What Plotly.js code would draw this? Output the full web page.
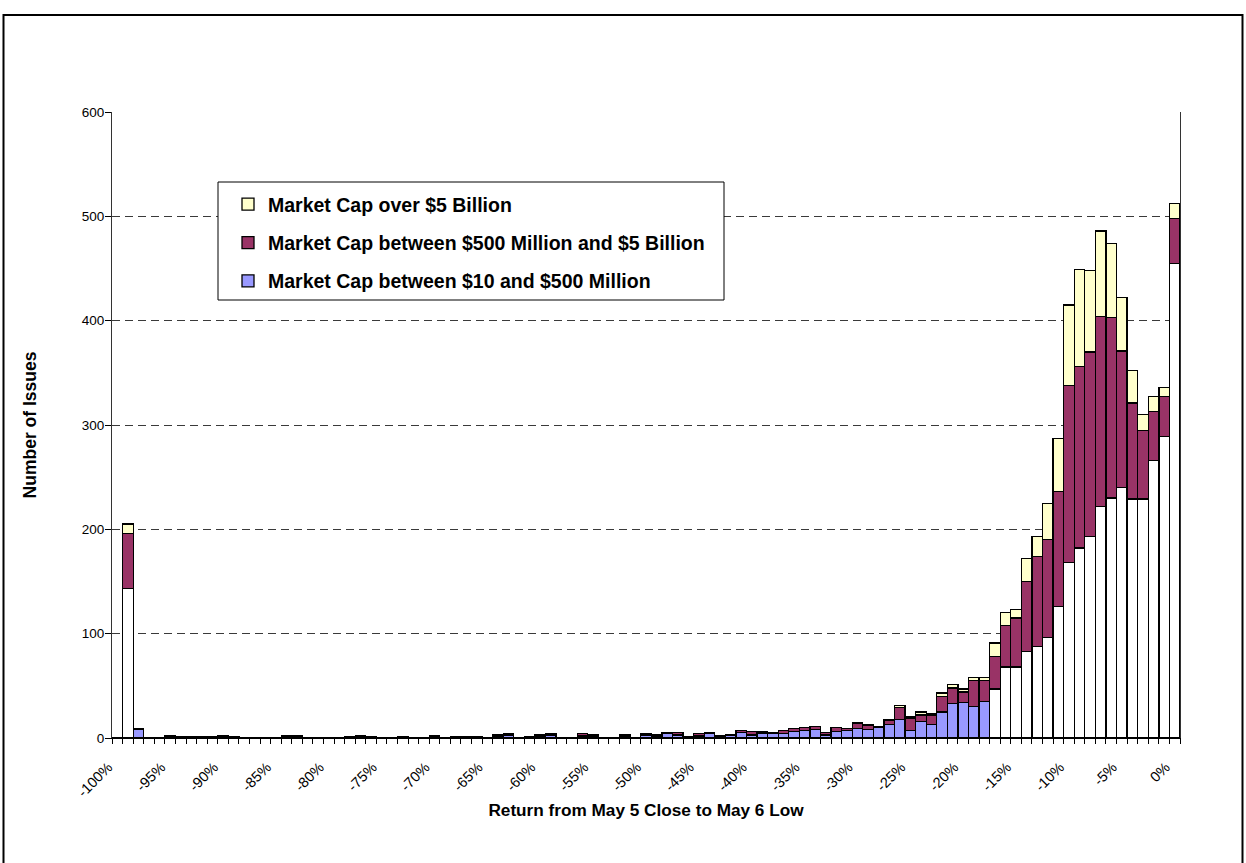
<!DOCTYPE html>
<html>
<head>
<meta charset="utf-8">
<script src="https://cdn.plot.ly/plotly-3.0.1.min.js"></script>
<style>
  html, body { margin: 0; padding: 0; background: #ffffff; }
  #chart { width: 1246px; height: 863px; }
</style>
</head>
<body>
<div id="chart"></div>
<script>
// One-percent return bins, from -100% up to 0%
const returnBins = [
  -100, -99, -98, -97, -96, -95, -94, -93, -92, -91,
  -90, -89, -88, -87, -86, -85, -84, -83, -82, -81,
  -80, -79, -78, -77, -76, -75, -74, -73, -72, -71,
  -70, -69, -68, -67, -66, -65, -64, -63, -62, -61,
  -60, -59, -58, -57, -56, -55, -54, -53, -52, -51,
  -50, -49, -48, -47, -46, -45, -44, -43, -42, -41,
  -40, -39, -38, -37, -36, -35, -34, -33, -32, -31,
  -30, -29, -28, -27, -26, -25, -24, -23, -22, -21,
  -20, -19, -18, -17, -16, -15, -14, -13, -12, -11,
  -10, -9, -8, -7, -6, -5, -4, -3, -2, -1,
  0
];

// Number of issues per bin, market cap between $10 and $500 million
const smallCap = [
  0, 143, 8, 0, 0, 1, 1, 1, 1, 1,
  1, 1, 0, 0, 0, 0, 1, 1, 0, 0,
  0, 0, 1, 1, 1, 0, 0, 1, 0, 0,
  1, 0, 1, 1, 1, 0, 1, 3, 0, 0,
  1, 3, 0, 0, 2, 1, 0, 0, 2, 0,
  3, 2, 4, 3, 1, 2, 4, 1, 3, 5,
  3, 4, 4, 4, 6, 7, 8, 3, 6, 7,
  9, 8, 10, 13, 18, 7, 16, 13, 25, 33,
  34, 30, 35, 47, 68, 68, 83, 88, 96, 126,
  168, 182, 193, 222, 230, 240, 229, 229, 266, 289,
  455
];

// Market cap between $500 million and $5 billion
const midCap = [
  0, 53, 1, 0, 0, 1, 0, 0, 0, 0,
  1, 0, 0, 0, 0, 0, 1, 1, 0, 0,
  0, 0, 0, 1, 0, 0, 0, 0, 0, 0,
  1, 0, 0, 0, 0, 0, 2, 1, 0, 1,
  2, 1, 0, 0, 2, 2, 0, 0, 1, 0,
  1, 1, 1, 2, 0, 2, 1, 1, 0, 2,
  3, 1, 1, 3, 3, 3, 3, 2, 4, 2,
  5, 4, 1, 4, 11, 12, 6, 9, 15, 15,
  10, 25, 20, 31, 40, 47, 67, 86, 94, 110,
  170, 174, 177, 182, 173, 131, 92, 66, 47, 38,
  43
];

// Market cap over $5 billion
const largeCap = [
  0, 9, 0, 0, 0, 0, 0, 0, 0, 0,
  0, 0, 0, 0, 0, 0, 0, 0, 0, 0,
  0, 0, 0, 0, 0, 0, 0, 0, 0, 0,
  0, 0, 0, 0, 0, 0, 0, 0, 0, 0,
  0, 0, 0, 0, 0, 0, 0, 0, 0, 0,
  0, 0, 0, 0, 0, 0, 0, 0, 0, 0,
  0, 1, 0, 0, 0, 0, 0, 0, 0, 0,
  1, 1, 0, 1, 2, 1, 3, 1, 3, 3,
  3, 3, 3, 13, 12, 8, 22, 19, 35, 51,
  77, 93, 78, 82, 71, 51, 31, 15, 14, 9,
  14
];

// Axis tick labels, one every five bins
const tickValues = [-100, -95, -90, -85, -80, -75, -70, -65, -60, -55, -50,
                    -45, -40, -35, -30, -25, -20, -15, -10, -5, 0];
const tickLabels = ['-100%', '-95%', '-90%', '-85%', '-80%', '-75%', '-70%',
                    '-65%', '-60%', '-55%', '-50%', '-45%', '-40%', '-35%',
                    '-30%', '-25%', '-20%', '-15%', '-10%', '-5%', '0%'];

const seriesNames = [
  'Market Cap between $10 and $500 Million',
  'Market Cap between $500 Million and $5 Billion',
  'Market Cap over $5 Billion'
];

const BLUE = '#9999FF';
const MAROON = '#993366';
const CREAM = '#FFFFCC';
const OUTLINE = { color: '#000000', width: 1.3 };

// Bottom segments of the -99% bin and of the bins from -17% upward are left white
const smallCapFill = returnBins.map(r => (r === -99 || r >= -17) ? '#FFFFFF' : BLUE);

const traces = [
  { name: seriesNames[0], y: smallCap, fill: smallCapFill },
  { name: seriesNames[1], y: midCap, fill: MAROON },
  { name: seriesNames[2], y: largeCap, fill: CREAM }
].map((s, i) => ({
  type: 'bar',
  name: s.name,
  x: returnBins,
  y: s.y,
  legendgroup: 'g' + i,
  legendrank: 3 - i,
  marker: { color: s.fill, line: OUTLINE },
  hoverinfo: 'x+y+name'
}));

// Plot area spans x 112..1180 and y 112..738 in page pixels
const PL = 112, PR = 1180, PT = 112, PB = 738;
const px = v => (v - PL) / (PR - PL);
const py = v => (PB - v) / (PB - PT);

const layout = {
  width: 1246,
  height: 863,
  margin: { l: PL, r: 1246 - PR, t: PT, b: 863 - PB, pad: 0 },
  paper_bgcolor: '#FFFFFF',
  plot_bgcolor: '#FFFFFF',
  barmode: 'stack',
  bargap: 0,
  font: { family: 'Arial, "Liberation Sans", sans-serif', color: '#000000', size: 13 },
  showlegend: true,
  legend: {
    x: px(228), y: py(185),
    xanchor: 'left', yanchor: 'top',
    bgcolor: 'rgba(0,0,0,0)',
    borderwidth: 0,
    traceorder: 'grouped',
    tracegroupgap: 10,
    font: { size: 19.5, weight: 'bold', color: '#000000' }
  },
  xaxis: {
    range: [-100.5, 0.5],
    tickmode: 'array',
    tickvals: tickValues,
    ticktext: tickLabels,
    tickangle: -45,
    ticklabelshift: -9,
    ticklabelstandoff: 14,
    ticks: '',
    tickfont: { size: 14.5 },
    showgrid: false,
    zeroline: false,
    showline: true,
    linecolor: '#000000',
    linewidth: 1,
    minor: { tick0: -100.5, dtick: 1, ticks: 'outside', ticklen: 5, tickcolor: '#000000', tickwidth: 1, showgrid: false },
    title: { text: 'Return from May 5 Close to May 6 Low', font: { size: 17.2, weight: 'bold' }, standoff: 4 },
    fixedrange: true
  },
  yaxis: {
    range: [0, 600],
    tickmode: 'array',
    tickvals: [0, 100, 200, 300, 400, 500, 600],
    ticks: 'outside',
    ticklen: 6,
    tickcolor: '#000000',
    tickfont: { size: 13.5 },
    ticklabelstandoff: -2,
    showline: true,
    linecolor: '#333333',
    linewidth: 1,
    mirror: true,
    zeroline: false,
    showgrid: false,
    minor: {
      tickvals: [100, 200, 300, 400, 500],
      ticks: '',
      showgrid: true,
      gridcolor: '#3a3a3a',
      gridwidth: 1,
      griddash: '8px,5px'
    },
    title: { text: 'Number of Issues', font: { size: 17.5, weight: 'bold' }, standoff: 40 },
    fixedrange: true
  },
  shapes: [
    // legend box
    {
      type: 'rect', xref: 'paper', yref: 'paper', layer: 'above',
      x0: px(218), x1: px(724), y0: py(300), y1: py(182),
      fillcolor: '#FFFFFF', line: { color: '#000000', width: 1 }
    },
    // outer chart frame, open at the bottom edge of the page
    {
      type: 'rect', xref: 'paper', yref: 'paper', layer: 'below',
      x0: px(3.5), x1: px(1242.5), y0: py(875), y1: py(15),
      fillcolor: 'rgba(0,0,0,0)', line: { color: '#000000', width: 2 }
    }
  ]
};

Plotly.newPlot('chart', traces, layout, { displayModeBar: false, staticPlot: true });
</script>
</body>
</html>
